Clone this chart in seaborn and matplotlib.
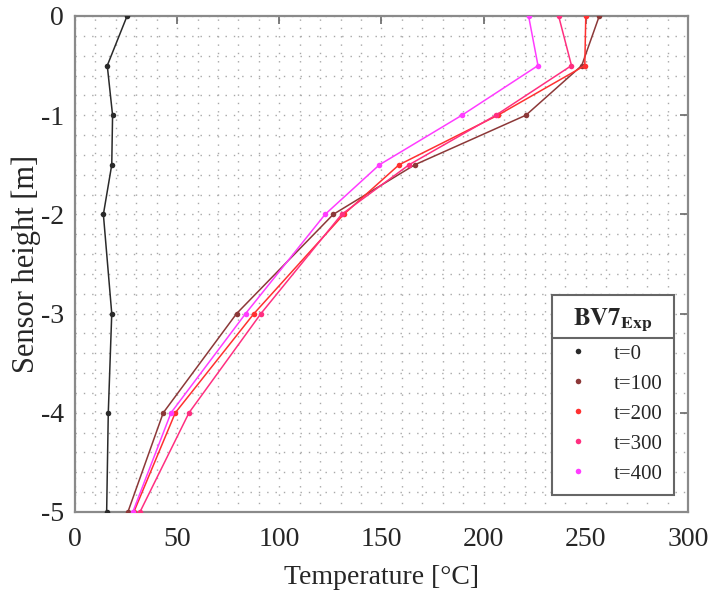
import matplotlib
matplotlib.use("Agg")
import matplotlib.pyplot as plt
import numpy as np
import pandas as pd
import seaborn as sns
from matplotlib.lines import Line2D
from matplotlib.ticker import MultipleLocator

# sensor depths [m]
depth = [0, -0.5, -1, -1.5, -2, -3, -4, -5]

# measured temperatures [°C] per time step
temp_t0 = [25.5, 15.8, 18.4, 18.0, 13.9, 18.0, 16.3, 15.5]
temp_t100 = [256.6, 248.0, 220.7, 166.3, 126.4, 79.1, 43.2, 25.9]
temp_t200 = [250.0, 249.5, 207.0, 158.6, 131.5, 87.6, 49.1, 28.8]
temp_t300 = [236.7, 243.0, 206.0, 163.5, 130.5, 91.0, 55.8, 31.8]
temp_t400 = [222.0, 226.6, 189.4, 149.0, 122.4, 83.5, 47.0, 28.3]

labels = ["t=0", "t=100", "t=200", "t=300", "t=400"]
colors = ["#2a2a2a", "#8c3838", "#ff3030", "#ff2f80", "#ff3cff"]

series = [temp_t0, temp_t100, temp_t200, temp_t300, temp_t400]
df = pd.concat(
    [pd.DataFrame({"temp": s, "depth": depth, "time": lab}) for s, lab in zip(series, labels)],
    ignore_index=True,
)

sns.set_style("white")
plt.rcParams["font.family"] = ["Liberation Serif", "DejaVu Serif"]
plt.rcParams["mathtext.fontset"] = "stix"
plt.rcParams["axes.unicode_minus"] = False

fig = plt.figure(figsize=(7.08, 6.01), dpi=100)
ax = fig.add_axes([0.1059, 0.1481, 0.8658, 0.8253])

sns.lineplot(data=df, x="temp", y="depth", hue="time", palette=colors, sort=False,
             estimator=None, linewidth=1.1, marker="o", markersize=4,
             markeredgewidth=0, legend=False, ax=ax, zorder=3)

ax.set_xlim(0, 300)
ax.set_ylim(-5, 0)
ax.xaxis.set_major_locator(MultipleLocator(50))
ax.yaxis.set_major_locator(MultipleLocator(1))
ax.xaxis.set_minor_locator(MultipleLocator(10))
ax.yaxis.set_minor_locator(MultipleLocator(0.2))
ax.grid(which="both", linestyle=(0, (1, 5)), color="#a8a8a8", linewidth=1.0)
ax.tick_params(which="major", direction="in", top=True, right=True, length=6,
               width=1.2, color="#666666", labelsize=20)
ax.tick_params(axis="x", which="major", pad=11)
ax.tick_params(axis="y", which="major", pad=8)
ax.tick_params(which="minor", length=0)
for sp in ax.spines.values():
    sp.set_color("#8a8a8a")
    sp.set_linewidth(1.6)

ax.set_xlabel("Temperature [°C]", fontsize=20, labelpad=9)
ax.set_ylabel("Sensor height [m]", fontsize=22, labelpad=0)

handles = [Line2D([], [], linestyle="none", marker="o", markersize=4,
                  markeredgewidth=0, color=c) for c in colors]
leg = ax.legend(handles, labels, title=r"$\mathbf{BV7_{Exp}}$", loc="lower right",
                bbox_to_anchor=(0.977, 0.034), borderaxespad=0, fontsize=15,
                title_fontsize=18, frameon=True, fancybox=False, framealpha=1,
                edgecolor="#666666", labelspacing=0.5, handlelength=1.4,
                handletextpad=1.0, borderpad=0.55)
leg.get_frame().set_linewidth(1.5)

# separator line under the legend title
fig.canvas.draw()
frame_bb = leg.get_frame().get_window_extent()
title_bb = leg.get_title().get_window_extent()
inv = fig.transFigure.inverted()
y_sep = title_bb.y0 - 4
(x0, y0), (x1, _) = inv.transform([(frame_bb.x0, y_sep), (frame_bb.x1, y_sep)])
fig.add_artist(Line2D([x0, x1], [y0, y0], color="#666666", linewidth=1.5,
                      transform=fig.transFigure))

fig.savefig("out.png", dpi=100)
